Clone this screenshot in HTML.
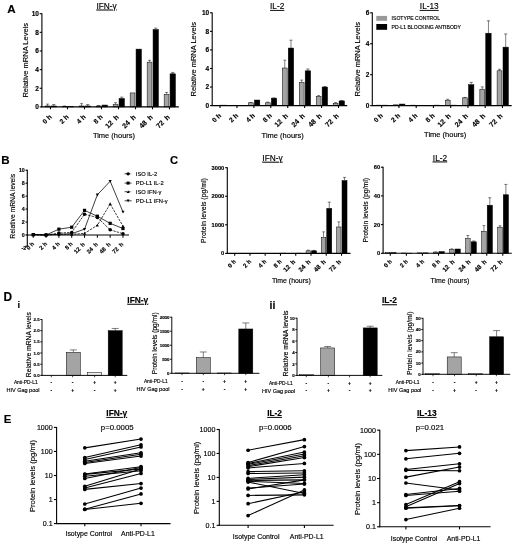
<!DOCTYPE html>
<html><head><meta charset="utf-8"><title>Figure</title>
<style>html,body{margin:0;padding:0;background:#fff;}body{width:520px;height:547px;overflow:hidden;}svg{display:block;filter:blur(0.28px);}text{stroke:#000;stroke-width:0.15px;}svg{font-family:'Liberation Sans', sans-serif;}</style>
</head><body>
<svg width="520" height="547" viewBox="0 0 520 547">
<rect width="520" height="547" fill="#fff"/>
<text x="7.20" y="13.00" font-size="11.6" text-anchor="start" font-weight="bold">A</text>
<text x="1.20" y="164.20" font-size="11.6" text-anchor="start" font-weight="bold">B</text>
<text x="170.00" y="163.90" font-size="11.2" text-anchor="start" font-weight="bold">C</text>
<text x="3.50" y="301.20" font-size="11.9" text-anchor="start" font-weight="bold">D</text>
<text x="3.70" y="423.00" font-size="11.4" text-anchor="start" font-weight="bold">E</text>
<line x1="47.55" y1="105.97" x2="47.55" y2="104.10" stroke="#000" stroke-width="0.5"/>
<line x1="46.11" y1="104.10" x2="48.99" y2="104.10" stroke="#000" stroke-width="0.5"/>
<rect x="45.15" y="105.97" width="4.80" height="0.93" fill="#a4a4a4" stroke="#000" stroke-width="0.5"/>
<line x1="53.75" y1="105.97" x2="53.75" y2="104.57" stroke="#000" stroke-width="0.5"/>
<line x1="52.13" y1="104.57" x2="55.37" y2="104.57" stroke="#000" stroke-width="0.5"/>
<rect x="51.05" y="105.97" width="5.40" height="0.93" fill="#000" stroke="#000" stroke-width="0.5"/>
<line x1="64.55" y1="106.43" x2="64.55" y2="105.97" stroke="#000" stroke-width="0.5"/>
<line x1="63.11" y1="105.97" x2="65.99" y2="105.97" stroke="#000" stroke-width="0.5"/>
<rect x="62.15" y="106.43" width="4.80" height="0.47" fill="#a4a4a4" stroke="#000" stroke-width="0.5"/>
<rect x="68.05" y="106.71" width="5.40" height="0.19" fill="#000" stroke="#000" stroke-width="0.5"/>
<line x1="81.55" y1="105.97" x2="81.55" y2="103.64" stroke="#000" stroke-width="0.5"/>
<line x1="80.11" y1="103.64" x2="82.99" y2="103.64" stroke="#000" stroke-width="0.5"/>
<rect x="79.15" y="105.97" width="4.80" height="0.93" fill="#a4a4a4" stroke="#000" stroke-width="0.5"/>
<line x1="87.75" y1="105.97" x2="87.75" y2="104.57" stroke="#000" stroke-width="0.5"/>
<line x1="86.13" y1="104.57" x2="89.37" y2="104.57" stroke="#000" stroke-width="0.5"/>
<rect x="85.05" y="105.97" width="5.40" height="0.93" fill="#000" stroke="#000" stroke-width="0.5"/>
<line x1="98.55" y1="105.97" x2="98.55" y2="105.50" stroke="#000" stroke-width="0.5"/>
<line x1="97.11" y1="105.50" x2="99.99" y2="105.50" stroke="#000" stroke-width="0.5"/>
<rect x="96.15" y="105.97" width="4.80" height="0.93" fill="#a4a4a4" stroke="#000" stroke-width="0.5"/>
<rect x="102.05" y="105.04" width="5.40" height="1.86" fill="#000" stroke="#000" stroke-width="0.5"/>
<line x1="115.55" y1="104.57" x2="115.55" y2="102.71" stroke="#000" stroke-width="0.5"/>
<line x1="114.11" y1="102.71" x2="116.99" y2="102.71" stroke="#000" stroke-width="0.5"/>
<rect x="113.15" y="104.57" width="4.80" height="2.33" fill="#a4a4a4" stroke="#000" stroke-width="0.5"/>
<line x1="121.75" y1="98.51" x2="121.75" y2="97.11" stroke="#000" stroke-width="0.5"/>
<line x1="120.13" y1="97.11" x2="123.37" y2="97.11" stroke="#000" stroke-width="0.5"/>
<rect x="119.05" y="98.51" width="5.40" height="8.39" fill="#000" stroke="#000" stroke-width="0.5"/>
<rect x="130.15" y="92.92" width="4.80" height="13.98" fill="#a4a4a4" stroke="#000" stroke-width="0.5"/>
<rect x="136.05" y="49.12" width="5.40" height="57.78" fill="#000" stroke="#000" stroke-width="0.5"/>
<line x1="149.55" y1="62.16" x2="149.55" y2="60.30" stroke="#000" stroke-width="0.5"/>
<line x1="148.11" y1="60.30" x2="150.99" y2="60.30" stroke="#000" stroke-width="0.5"/>
<rect x="147.15" y="62.16" width="4.80" height="44.74" fill="#a4a4a4" stroke="#000" stroke-width="0.5"/>
<line x1="155.75" y1="29.54" x2="155.75" y2="28.15" stroke="#000" stroke-width="0.5"/>
<line x1="154.13" y1="28.15" x2="157.37" y2="28.15" stroke="#000" stroke-width="0.5"/>
<rect x="153.05" y="29.54" width="5.40" height="77.36" fill="#000" stroke="#000" stroke-width="0.5"/>
<line x1="166.55" y1="94.32" x2="166.55" y2="92.45" stroke="#000" stroke-width="0.5"/>
<line x1="165.11" y1="92.45" x2="167.99" y2="92.45" stroke="#000" stroke-width="0.5"/>
<rect x="164.15" y="94.32" width="4.80" height="12.58" fill="#a4a4a4" stroke="#000" stroke-width="0.5"/>
<line x1="172.75" y1="73.81" x2="172.75" y2="72.42" stroke="#000" stroke-width="0.5"/>
<line x1="171.13" y1="72.42" x2="174.37" y2="72.42" stroke="#000" stroke-width="0.5"/>
<rect x="170.05" y="73.81" width="5.40" height="33.09" fill="#000" stroke="#000" stroke-width="0.5"/>
<line x1="41.90" y1="13.30" x2="41.90" y2="107.30" stroke="#000" stroke-width="1.1"/>
<line x1="39.70" y1="106.90" x2="41.90" y2="106.90" stroke="#000" stroke-width="1.1"/>
<text x="38.90" y="109.24" font-size="6.5" text-anchor="end" font-weight="bold">0</text>
<line x1="39.70" y1="88.26" x2="41.90" y2="88.26" stroke="#000" stroke-width="1.1"/>
<text x="38.90" y="90.60" font-size="6.5" text-anchor="end" font-weight="bold">2</text>
<line x1="39.70" y1="69.62" x2="41.90" y2="69.62" stroke="#000" stroke-width="1.1"/>
<text x="38.90" y="71.96" font-size="6.5" text-anchor="end" font-weight="bold">4</text>
<line x1="39.70" y1="50.98" x2="41.90" y2="50.98" stroke="#000" stroke-width="1.1"/>
<text x="38.90" y="53.32" font-size="6.5" text-anchor="end" font-weight="bold">6</text>
<line x1="39.70" y1="32.34" x2="41.90" y2="32.34" stroke="#000" stroke-width="1.1"/>
<text x="38.90" y="34.68" font-size="6.5" text-anchor="end" font-weight="bold">8</text>
<line x1="39.70" y1="13.70" x2="41.90" y2="13.70" stroke="#000" stroke-width="1.1"/>
<text x="38.90" y="16.04" font-size="6.5" text-anchor="end" font-weight="bold">10</text>
<line x1="41.35" y1="106.90" x2="178.80" y2="106.90" stroke="#000" stroke-width="1.1"/>
<line x1="50.50" y1="106.90" x2="50.50" y2="109.30" stroke="#000" stroke-width="1.1"/>
<text x="52.10" y="117.35" font-size="6.6499999999999995" text-anchor="end" font-weight="bold" transform="rotate(-45 52.1 117.35000000000001)">0 h</text>
<line x1="67.50" y1="106.90" x2="67.50" y2="109.30" stroke="#000" stroke-width="1.1"/>
<text x="69.10" y="117.35" font-size="6.6499999999999995" text-anchor="end" font-weight="bold" transform="rotate(-45 69.10000000000001 117.35000000000001)">2 h</text>
<line x1="84.50" y1="106.90" x2="84.50" y2="109.30" stroke="#000" stroke-width="1.1"/>
<text x="86.10" y="117.35" font-size="6.6499999999999995" text-anchor="end" font-weight="bold" transform="rotate(-45 86.10000000000001 117.35000000000001)">4 h</text>
<line x1="101.50" y1="106.90" x2="101.50" y2="109.30" stroke="#000" stroke-width="1.1"/>
<text x="103.10" y="117.35" font-size="6.6499999999999995" text-anchor="end" font-weight="bold" transform="rotate(-45 103.10000000000001 117.35000000000001)">8 h</text>
<line x1="118.50" y1="106.90" x2="118.50" y2="109.30" stroke="#000" stroke-width="1.1"/>
<text x="119.20" y="117.65" font-size="7.0" text-anchor="end" font-weight="bold" transform="rotate(-45 119.2 117.65)" word-spacing="1.8">12 h</text>
<line x1="135.50" y1="106.90" x2="135.50" y2="109.30" stroke="#000" stroke-width="1.1"/>
<text x="136.20" y="117.65" font-size="7.0" text-anchor="end" font-weight="bold" transform="rotate(-45 136.2 117.65)" word-spacing="1.8">24 h</text>
<line x1="152.50" y1="106.90" x2="152.50" y2="109.30" stroke="#000" stroke-width="1.1"/>
<text x="153.20" y="117.65" font-size="7.0" text-anchor="end" font-weight="bold" transform="rotate(-45 153.2 117.65)" word-spacing="1.8">48 h</text>
<line x1="169.50" y1="106.90" x2="169.50" y2="109.30" stroke="#000" stroke-width="1.1"/>
<text x="170.20" y="117.65" font-size="7.0" text-anchor="end" font-weight="bold" transform="rotate(-45 170.2 117.65)" word-spacing="1.8">72 h</text>
<text x="106.60" y="8.60" font-size="8.3" text-anchor="middle" text-decoration="underline">IFN-γ</text>
<text x="27.90" y="60.30" font-size="7.5" text-anchor="middle" transform="rotate(-90 27.9 60.300000000000004)">Relative mRNA Levels</text>
<text x="114.00" y="138.40" font-size="7.5" text-anchor="middle">Time (hours)</text>
<rect x="214.65" y="105.41" width="4.80" height="0.19" fill="#a4a4a4" stroke="#000" stroke-width="0.5"/>
<rect x="220.55" y="105.14" width="5.40" height="0.46" fill="#000" stroke="#000" stroke-width="0.5"/>
<line x1="250.91" y1="102.82" x2="250.91" y2="102.54" stroke="#000" stroke-width="0.5"/>
<line x1="249.47" y1="102.54" x2="252.35" y2="102.54" stroke="#000" stroke-width="0.5"/>
<rect x="248.51" y="102.82" width="4.80" height="2.78" fill="#a4a4a4" stroke="#000" stroke-width="0.5"/>
<rect x="254.41" y="100.03" width="5.40" height="5.57" fill="#000" stroke="#000" stroke-width="0.5"/>
<line x1="267.84" y1="102.82" x2="267.84" y2="102.07" stroke="#000" stroke-width="0.5"/>
<line x1="266.40" y1="102.07" x2="269.28" y2="102.07" stroke="#000" stroke-width="0.5"/>
<rect x="265.44" y="102.82" width="4.80" height="2.78" fill="#a4a4a4" stroke="#000" stroke-width="0.5"/>
<line x1="274.04" y1="98.18" x2="274.04" y2="97.90" stroke="#000" stroke-width="0.5"/>
<line x1="272.42" y1="97.90" x2="275.66" y2="97.90" stroke="#000" stroke-width="0.5"/>
<rect x="271.34" y="98.18" width="5.40" height="7.42" fill="#000" stroke="#000" stroke-width="0.5"/>
<line x1="284.77" y1="68.02" x2="284.77" y2="60.13" stroke="#000" stroke-width="0.5"/>
<line x1="283.33" y1="60.13" x2="286.21" y2="60.13" stroke="#000" stroke-width="0.5"/>
<rect x="282.37" y="68.02" width="4.80" height="37.58" fill="#a4a4a4" stroke="#000" stroke-width="0.5"/>
<line x1="290.97" y1="48.06" x2="290.97" y2="40.18" stroke="#000" stroke-width="0.5"/>
<line x1="289.35" y1="40.18" x2="292.59" y2="40.18" stroke="#000" stroke-width="0.5"/>
<rect x="288.27" y="48.06" width="5.40" height="57.54" fill="#000" stroke="#000" stroke-width="0.5"/>
<line x1="301.70" y1="82.40" x2="301.70" y2="80.08" stroke="#000" stroke-width="0.5"/>
<line x1="300.26" y1="80.08" x2="303.14" y2="80.08" stroke="#000" stroke-width="0.5"/>
<rect x="299.30" y="82.40" width="4.80" height="23.20" fill="#a4a4a4" stroke="#000" stroke-width="0.5"/>
<line x1="307.90" y1="70.80" x2="307.90" y2="68.94" stroke="#000" stroke-width="0.5"/>
<line x1="306.28" y1="68.94" x2="309.52" y2="68.94" stroke="#000" stroke-width="0.5"/>
<rect x="305.20" y="70.80" width="5.40" height="34.80" fill="#000" stroke="#000" stroke-width="0.5"/>
<line x1="318.63" y1="96.32" x2="318.63" y2="95.58" stroke="#000" stroke-width="0.5"/>
<line x1="317.19" y1="95.58" x2="320.07" y2="95.58" stroke="#000" stroke-width="0.5"/>
<rect x="316.23" y="96.32" width="4.80" height="9.28" fill="#a4a4a4" stroke="#000" stroke-width="0.5"/>
<line x1="324.83" y1="87.04" x2="324.83" y2="86.58" stroke="#000" stroke-width="0.5"/>
<line x1="323.21" y1="86.58" x2="326.45" y2="86.58" stroke="#000" stroke-width="0.5"/>
<rect x="322.13" y="87.04" width="5.40" height="18.56" fill="#000" stroke="#000" stroke-width="0.5"/>
<line x1="335.56" y1="103.28" x2="335.56" y2="102.54" stroke="#000" stroke-width="0.5"/>
<line x1="334.12" y1="102.54" x2="337.00" y2="102.54" stroke="#000" stroke-width="0.5"/>
<rect x="333.16" y="103.28" width="4.80" height="2.32" fill="#a4a4a4" stroke="#000" stroke-width="0.5"/>
<line x1="341.76" y1="100.96" x2="341.76" y2="100.50" stroke="#000" stroke-width="0.5"/>
<line x1="340.14" y1="100.50" x2="343.38" y2="100.50" stroke="#000" stroke-width="0.5"/>
<rect x="339.06" y="100.96" width="5.40" height="4.64" fill="#000" stroke="#000" stroke-width="0.5"/>
<line x1="212.20" y1="12.40" x2="212.20" y2="106.00" stroke="#000" stroke-width="1.1"/>
<line x1="210.00" y1="105.60" x2="212.20" y2="105.60" stroke="#000" stroke-width="1.1"/>
<text x="209.20" y="107.94" font-size="6.5" text-anchor="end" font-weight="bold">0</text>
<line x1="210.00" y1="87.04" x2="212.20" y2="87.04" stroke="#000" stroke-width="1.1"/>
<text x="209.20" y="89.38" font-size="6.5" text-anchor="end" font-weight="bold">2</text>
<line x1="210.00" y1="68.48" x2="212.20" y2="68.48" stroke="#000" stroke-width="1.1"/>
<text x="209.20" y="70.82" font-size="6.5" text-anchor="end" font-weight="bold">4</text>
<line x1="210.00" y1="49.92" x2="212.20" y2="49.92" stroke="#000" stroke-width="1.1"/>
<text x="209.20" y="52.26" font-size="6.5" text-anchor="end" font-weight="bold">6</text>
<line x1="210.00" y1="31.36" x2="212.20" y2="31.36" stroke="#000" stroke-width="1.1"/>
<text x="209.20" y="33.70" font-size="6.5" text-anchor="end" font-weight="bold">8</text>
<line x1="210.00" y1="12.80" x2="212.20" y2="12.80" stroke="#000" stroke-width="1.1"/>
<text x="209.20" y="15.14" font-size="6.5" text-anchor="end" font-weight="bold">10</text>
<line x1="211.65" y1="105.60" x2="347.20" y2="105.60" stroke="#000" stroke-width="1.1"/>
<line x1="220.00" y1="105.60" x2="220.00" y2="108.00" stroke="#000" stroke-width="1.1"/>
<text x="221.60" y="116.05" font-size="6.6499999999999995" text-anchor="end" font-weight="bold" transform="rotate(-45 221.6 116.05)">0 h</text>
<line x1="236.93" y1="105.60" x2="236.93" y2="108.00" stroke="#000" stroke-width="1.1"/>
<text x="238.53" y="116.05" font-size="6.6499999999999995" text-anchor="end" font-weight="bold" transform="rotate(-45 238.53 116.05)">2 h</text>
<line x1="253.86" y1="105.60" x2="253.86" y2="108.00" stroke="#000" stroke-width="1.1"/>
<text x="255.46" y="116.05" font-size="6.6499999999999995" text-anchor="end" font-weight="bold" transform="rotate(-45 255.46 116.05)">4 h</text>
<line x1="270.79" y1="105.60" x2="270.79" y2="108.00" stroke="#000" stroke-width="1.1"/>
<text x="272.39" y="116.05" font-size="6.6499999999999995" text-anchor="end" font-weight="bold" transform="rotate(-45 272.39 116.05)">8 h</text>
<line x1="287.72" y1="105.60" x2="287.72" y2="108.00" stroke="#000" stroke-width="1.1"/>
<text x="288.42" y="116.35" font-size="7.0" text-anchor="end" font-weight="bold" transform="rotate(-45 288.42 116.35)" word-spacing="1.8">12 h</text>
<line x1="304.65" y1="105.60" x2="304.65" y2="108.00" stroke="#000" stroke-width="1.1"/>
<text x="305.35" y="116.35" font-size="7.0" text-anchor="end" font-weight="bold" transform="rotate(-45 305.34999999999997 116.35)" word-spacing="1.8">24 h</text>
<line x1="321.58" y1="105.60" x2="321.58" y2="108.00" stroke="#000" stroke-width="1.1"/>
<text x="322.28" y="116.35" font-size="7.0" text-anchor="end" font-weight="bold" transform="rotate(-45 322.28 116.35)" word-spacing="1.8">48 h</text>
<line x1="338.51" y1="105.60" x2="338.51" y2="108.00" stroke="#000" stroke-width="1.1"/>
<text x="339.21" y="116.35" font-size="7.0" text-anchor="end" font-weight="bold" transform="rotate(-45 339.21 116.35)" word-spacing="1.8">72 h</text>
<text x="277.20" y="9.00" font-size="8.3" text-anchor="middle" text-decoration="underline">IL-2</text>
<text x="196.50" y="59.20" font-size="7.5" text-anchor="middle" transform="rotate(-90 196.5 59.199999999999996)">Relative mRNA Levels</text>
<text x="282.70" y="138.00" font-size="7.5" text-anchor="middle">Time (hours)</text>
<rect x="376.35" y="105.14" width="4.80" height="0.46" fill="#a4a4a4" stroke="#000" stroke-width="0.5"/>
<rect x="382.25" y="105.14" width="5.40" height="0.46" fill="#000" stroke="#000" stroke-width="0.5"/>
<rect x="393.60" y="104.83" width="4.80" height="0.77" fill="#a4a4a4" stroke="#000" stroke-width="0.5"/>
<rect x="399.50" y="104.05" width="5.40" height="1.55" fill="#000" stroke="#000" stroke-width="0.5"/>
<rect x="410.85" y="105.14" width="4.80" height="0.46" fill="#a4a4a4" stroke="#000" stroke-width="0.5"/>
<rect x="434.00" y="105.14" width="5.40" height="0.46" fill="#000" stroke="#000" stroke-width="0.5"/>
<line x1="447.75" y1="100.19" x2="447.75" y2="99.26" stroke="#000" stroke-width="0.5"/>
<line x1="446.31" y1="99.26" x2="449.19" y2="99.26" stroke="#000" stroke-width="0.5"/>
<rect x="445.35" y="100.19" width="4.80" height="5.41" fill="#a4a4a4" stroke="#000" stroke-width="0.5"/>
<rect x="451.25" y="105.14" width="5.40" height="0.46" fill="#000" stroke="#000" stroke-width="0.5"/>
<line x1="465.00" y1="97.87" x2="465.00" y2="97.40" stroke="#000" stroke-width="0.5"/>
<line x1="463.56" y1="97.40" x2="466.44" y2="97.40" stroke="#000" stroke-width="0.5"/>
<rect x="462.60" y="97.87" width="4.80" height="7.73" fill="#a4a4a4" stroke="#000" stroke-width="0.5"/>
<line x1="471.20" y1="84.72" x2="471.20" y2="82.40" stroke="#000" stroke-width="0.5"/>
<line x1="469.58" y1="82.40" x2="472.82" y2="82.40" stroke="#000" stroke-width="0.5"/>
<rect x="468.50" y="84.72" width="5.40" height="20.88" fill="#000" stroke="#000" stroke-width="0.5"/>
<line x1="482.25" y1="89.21" x2="482.25" y2="86.89" stroke="#000" stroke-width="0.5"/>
<line x1="480.81" y1="86.89" x2="483.69" y2="86.89" stroke="#000" stroke-width="0.5"/>
<rect x="479.85" y="89.21" width="4.80" height="16.39" fill="#a4a4a4" stroke="#000" stroke-width="0.5"/>
<line x1="488.45" y1="33.22" x2="488.45" y2="20.84" stroke="#000" stroke-width="0.5"/>
<line x1="486.83" y1="20.84" x2="490.07" y2="20.84" stroke="#000" stroke-width="0.5"/>
<rect x="485.75" y="33.22" width="5.40" height="72.38" fill="#000" stroke="#000" stroke-width="0.5"/>
<line x1="499.50" y1="70.80" x2="499.50" y2="69.25" stroke="#000" stroke-width="0.5"/>
<line x1="498.06" y1="69.25" x2="500.94" y2="69.25" stroke="#000" stroke-width="0.5"/>
<rect x="497.10" y="70.80" width="4.80" height="34.80" fill="#a4a4a4" stroke="#000" stroke-width="0.5"/>
<line x1="505.70" y1="47.14" x2="505.70" y2="33.99" stroke="#000" stroke-width="0.5"/>
<line x1="504.08" y1="33.99" x2="507.32" y2="33.99" stroke="#000" stroke-width="0.5"/>
<rect x="503.00" y="47.14" width="5.40" height="58.46" fill="#000" stroke="#000" stroke-width="0.5"/>
<line x1="372.30" y1="12.40" x2="372.30" y2="106.00" stroke="#000" stroke-width="1.1"/>
<line x1="370.10" y1="105.60" x2="372.30" y2="105.60" stroke="#000" stroke-width="1.1"/>
<text x="369.30" y="107.94" font-size="6.5" text-anchor="end" font-weight="bold">0</text>
<line x1="370.10" y1="74.67" x2="372.30" y2="74.67" stroke="#000" stroke-width="1.1"/>
<text x="369.30" y="77.01" font-size="6.5" text-anchor="end" font-weight="bold">2</text>
<line x1="370.10" y1="43.73" x2="372.30" y2="43.73" stroke="#000" stroke-width="1.1"/>
<text x="369.30" y="46.07" font-size="6.5" text-anchor="end" font-weight="bold">4</text>
<line x1="370.10" y1="12.80" x2="372.30" y2="12.80" stroke="#000" stroke-width="1.1"/>
<text x="369.30" y="15.14" font-size="6.5" text-anchor="end" font-weight="bold">6</text>
<line x1="371.75" y1="105.60" x2="511.70" y2="105.60" stroke="#000" stroke-width="1.1"/>
<line x1="381.70" y1="105.60" x2="381.70" y2="108.00" stroke="#000" stroke-width="1.1"/>
<text x="383.30" y="116.05" font-size="6.6499999999999995" text-anchor="end" font-weight="bold" transform="rotate(-45 383.29999999999995 116.05)">0 h</text>
<line x1="398.95" y1="105.60" x2="398.95" y2="108.00" stroke="#000" stroke-width="1.1"/>
<text x="400.55" y="116.05" font-size="6.6499999999999995" text-anchor="end" font-weight="bold" transform="rotate(-45 400.54999999999995 116.05)">2 h</text>
<line x1="416.20" y1="105.60" x2="416.20" y2="108.00" stroke="#000" stroke-width="1.1"/>
<text x="417.80" y="116.05" font-size="6.6499999999999995" text-anchor="end" font-weight="bold" transform="rotate(-45 417.79999999999995 116.05)">4 h</text>
<line x1="433.45" y1="105.60" x2="433.45" y2="108.00" stroke="#000" stroke-width="1.1"/>
<text x="435.05" y="116.05" font-size="6.6499999999999995" text-anchor="end" font-weight="bold" transform="rotate(-45 435.04999999999995 116.05)">8 h</text>
<line x1="450.70" y1="105.60" x2="450.70" y2="108.00" stroke="#000" stroke-width="1.1"/>
<text x="451.40" y="116.35" font-size="7.0" text-anchor="end" font-weight="bold" transform="rotate(-45 451.4 116.35)" word-spacing="1.8">12 h</text>
<line x1="467.95" y1="105.60" x2="467.95" y2="108.00" stroke="#000" stroke-width="1.1"/>
<text x="468.65" y="116.35" font-size="7.0" text-anchor="end" font-weight="bold" transform="rotate(-45 468.65 116.35)" word-spacing="1.8">24 h</text>
<line x1="485.20" y1="105.60" x2="485.20" y2="108.00" stroke="#000" stroke-width="1.1"/>
<text x="485.90" y="116.35" font-size="7.0" text-anchor="end" font-weight="bold" transform="rotate(-45 485.9 116.35)" word-spacing="1.8">48 h</text>
<line x1="502.45" y1="105.60" x2="502.45" y2="108.00" stroke="#000" stroke-width="1.1"/>
<text x="503.15" y="116.35" font-size="7.0" text-anchor="end" font-weight="bold" transform="rotate(-45 503.15 116.35)" word-spacing="1.8">72 h</text>
<text x="429.30" y="9.00" font-size="8.3" text-anchor="middle" text-decoration="underline">IL-13</text>
<text x="360.00" y="59.20" font-size="7.5" text-anchor="middle" transform="rotate(-90 360.0 59.199999999999996)">Relative mRNA Levels</text>
<text x="445.20" y="137.00" font-size="7.5" text-anchor="middle">Time (hours)</text>
<rect x="376.3" y="15.9" width="10.8" height="4.9" fill="#999"/>
<rect x="376.3" y="24.0" width="10.8" height="5.8" fill="#000"/>
<text x="391.60" y="20.30" font-size="5.1" text-anchor="start">ISOTYPE CONTROL</text>
<text x="391.60" y="28.90" font-size="5.1" text-anchor="start">PD-L1 BLOCKING ANTIBODY</text>
<line x1="27.30" y1="169.80" x2="27.30" y2="235.40" stroke="#000" stroke-width="1.1"/>
<line x1="25.50" y1="235.00" x2="27.30" y2="235.00" stroke="#000" stroke-width="1.1"/>
<text x="24.80" y="236.91" font-size="5.3" text-anchor="end" font-weight="bold">0</text>
<line x1="25.50" y1="222.04" x2="27.30" y2="222.04" stroke="#000" stroke-width="1.1"/>
<text x="24.80" y="223.95" font-size="5.3" text-anchor="end" font-weight="bold">2</text>
<line x1="25.50" y1="209.08" x2="27.30" y2="209.08" stroke="#000" stroke-width="1.1"/>
<text x="24.80" y="210.99" font-size="5.3" text-anchor="end" font-weight="bold">4</text>
<line x1="25.50" y1="196.12" x2="27.30" y2="196.12" stroke="#000" stroke-width="1.1"/>
<text x="24.80" y="198.03" font-size="5.3" text-anchor="end" font-weight="bold">6</text>
<line x1="25.50" y1="183.16" x2="27.30" y2="183.16" stroke="#000" stroke-width="1.1"/>
<text x="24.80" y="185.07" font-size="5.3" text-anchor="end" font-weight="bold">8</text>
<line x1="25.50" y1="170.20" x2="27.30" y2="170.20" stroke="#000" stroke-width="1.1"/>
<text x="24.80" y="172.11" font-size="5.3" text-anchor="end" font-weight="bold">10</text>
<line x1="27.30" y1="235.00" x2="27.30" y2="246.20" stroke="#000" stroke-width="1.1"/>
<line x1="25.50" y1="246.20" x2="27.30" y2="246.20" stroke="#000" stroke-width="1.1"/>
<text x="26.30" y="249.60" font-size="5.3" text-anchor="end" font-weight="bold">-2</text>
<line x1="26.75" y1="235.00" x2="129.00" y2="235.00" stroke="#000" stroke-width="1.1"/>
<text x="14.70" y="206.20" font-size="6.75" text-anchor="middle" transform="rotate(-90 14.7 206.2)">Relative mRNA levels</text>
<line x1="33.25" y1="235.00" x2="33.25" y2="237.80" stroke="#000" stroke-width="1.0"/>
<text x="34.65" y="244.20" font-size="5.8" text-anchor="end" font-weight="bold" transform="rotate(-45 34.65 244.2)">0 h</text>
<line x1="46.07" y1="235.00" x2="46.07" y2="237.80" stroke="#000" stroke-width="1.0"/>
<text x="47.47" y="244.20" font-size="5.8" text-anchor="end" font-weight="bold" transform="rotate(-45 47.47 244.2)">2 h</text>
<line x1="58.89" y1="235.00" x2="58.89" y2="237.80" stroke="#000" stroke-width="1.0"/>
<text x="60.29" y="244.20" font-size="5.8" text-anchor="end" font-weight="bold" transform="rotate(-45 60.29 244.2)">4 h</text>
<line x1="71.71" y1="235.00" x2="71.71" y2="237.80" stroke="#000" stroke-width="1.0"/>
<text x="73.11" y="244.20" font-size="5.8" text-anchor="end" font-weight="bold" transform="rotate(-45 73.11000000000001 244.2)">8 h</text>
<line x1="84.53" y1="235.00" x2="84.53" y2="237.80" stroke="#000" stroke-width="1.0"/>
<text x="85.33" y="244.80" font-size="5.8" text-anchor="end" font-weight="bold" transform="rotate(-45 85.33 244.8)" word-spacing="1.4">12 h</text>
<line x1="97.35" y1="235.00" x2="97.35" y2="237.80" stroke="#000" stroke-width="1.0"/>
<text x="98.15" y="244.80" font-size="5.8" text-anchor="end" font-weight="bold" transform="rotate(-45 98.14999999999999 244.8)" word-spacing="1.4">24 h</text>
<line x1="110.17" y1="235.00" x2="110.17" y2="237.80" stroke="#000" stroke-width="1.0"/>
<text x="110.97" y="244.80" font-size="5.8" text-anchor="end" font-weight="bold" transform="rotate(-45 110.97 244.8)" word-spacing="1.4">48 h</text>
<line x1="122.99" y1="235.00" x2="122.99" y2="237.80" stroke="#000" stroke-width="1.0"/>
<text x="123.79" y="244.80" font-size="5.8" text-anchor="end" font-weight="bold" transform="rotate(-45 123.79 244.8)" word-spacing="1.4">72 h</text>
<polyline points="33.25,234.87 46.07,235.00 58.89,233.06 71.71,232.41 84.53,214.26 97.35,217.50 110.17,229.82 122.99,233.70" fill="none" stroke="#000" stroke-width="0.75" stroke-dasharray="2.4 1.0"/>
<circle cx="33.25" cy="234.87" r="1.76" fill="#000"/>
<circle cx="46.07" cy="235.00" r="1.76" fill="#000"/>
<circle cx="58.89" cy="233.06" r="1.76" fill="#000"/>
<circle cx="71.71" cy="232.41" r="1.76" fill="#000"/>
<circle cx="84.53" cy="214.26" r="1.76" fill="#000"/>
<circle cx="97.35" cy="217.50" r="1.76" fill="#000"/>
<circle cx="110.17" cy="229.82" r="1.76" fill="#000"/>
<circle cx="122.99" cy="233.70" r="1.76" fill="#000"/>
<polyline points="33.25,234.68 46.07,235.00 58.89,229.17 71.71,227.22 84.53,210.38 97.35,216.21 110.17,223.34 122.99,228.52" fill="none" stroke="#000" stroke-width="0.75"/>
<rect x="31.65" y="233.08" width="3.20" height="3.20" fill="#000"/>
<rect x="44.47" y="233.40" width="3.20" height="3.20" fill="#000"/>
<rect x="57.29" y="227.57" width="3.20" height="3.20" fill="#000"/>
<rect x="70.11" y="225.62" width="3.20" height="3.20" fill="#000"/>
<rect x="82.93" y="208.78" width="3.20" height="3.20" fill="#000"/>
<rect x="95.75" y="214.61" width="3.20" height="3.20" fill="#000"/>
<rect x="108.57" y="221.74" width="3.20" height="3.20" fill="#000"/>
<rect x="121.39" y="226.92" width="3.20" height="3.20" fill="#000"/>
<polyline points="33.25,234.35 46.07,234.68 58.89,234.35 71.71,234.35 84.53,233.38 97.35,225.28 110.17,203.90 122.99,226.25" fill="none" stroke="#000" stroke-width="0.75" stroke-dasharray="2.4 1.0"/>
<polygon points="31.65,235.63 34.85,235.63 33.25,232.75" fill="#000"/>
<polygon points="44.47,235.96 47.67,235.96 46.07,233.08" fill="#000"/>
<polygon points="57.29,235.63 60.49,235.63 58.89,232.75" fill="#000"/>
<polygon points="70.11,235.63 73.31,235.63 71.71,232.75" fill="#000"/>
<polygon points="82.93,234.66 86.13,234.66 84.53,231.78" fill="#000"/>
<polygon points="95.75,226.56 98.95,226.56 97.35,223.68" fill="#000"/>
<polygon points="108.57,205.18 111.77,205.18 110.17,202.30" fill="#000"/>
<polygon points="121.39,227.53 124.59,227.53 122.99,224.65" fill="#000"/>
<polyline points="33.25,234.35 46.07,235.00 58.89,234.35 71.71,233.70 84.53,229.17 97.35,194.82 110.17,181.22 122.99,212.00" fill="none" stroke="#000" stroke-width="0.75"/>
<polygon points="31.65,233.07 34.85,233.07 33.25,235.95" fill="#000"/>
<polygon points="44.47,233.72 47.67,233.72 46.07,236.60" fill="#000"/>
<polygon points="57.29,233.07 60.49,233.07 58.89,235.95" fill="#000"/>
<polygon points="70.11,232.42 73.31,232.42 71.71,235.30" fill="#000"/>
<polygon points="82.93,227.89 86.13,227.89 84.53,230.77" fill="#000"/>
<polygon points="95.75,193.54 98.95,193.54 97.35,196.42" fill="#000"/>
<polygon points="108.57,179.94 111.77,179.94 110.17,182.82" fill="#000"/>
<polygon points="121.39,210.72 124.59,210.72 122.99,213.60" fill="#000"/>
<line x1="124.6" y1="173.8" x2="131.6" y2="173.8" stroke="#000" stroke-width="0.75" stroke-dasharray="2.4 1.0"/>
<circle cx="128.10" cy="173.80" r="1.65" fill="#000"/>
<text x="135.80" y="175.80" font-size="5.75" text-anchor="start">ISO IL-2</text>
<line x1="124.6" y1="183.1" x2="131.6" y2="183.1" stroke="#000" stroke-width="0.75"/>
<rect x="126.60" y="181.60" width="3.00" height="3.00" fill="#000"/>
<text x="135.80" y="185.10" font-size="5.75" text-anchor="start">PD-L1 IL-2</text>
<line x1="124.6" y1="191.7" x2="131.6" y2="191.7" stroke="#000" stroke-width="0.75" stroke-dasharray="2.4 1.0"/>
<polygon points="126.60,192.90 129.60,192.90 128.10,190.20" fill="#000"/>
<text x="135.80" y="193.70" font-size="5.75" text-anchor="start">ISO IFN-γ</text>
<line x1="124.6" y1="200.8" x2="131.6" y2="200.8" stroke="#000" stroke-width="0.75"/>
<polygon points="126.60,199.60 129.60,199.60 128.10,202.30" fill="#000"/>
<text x="135.80" y="202.80" font-size="5.75" text-anchor="start">PD-L1 IFN-γ</text>
<rect x="275.58" y="253.29" width="4.40" height="0.11" fill="#a4a4a4" stroke="#000" stroke-width="0.5"/>
<rect x="280.98" y="253.17" width="5.00" height="0.23" fill="#000" stroke="#000" stroke-width="0.5"/>
<rect x="290.84" y="253.29" width="4.40" height="0.11" fill="#a4a4a4" stroke="#000" stroke-width="0.5"/>
<rect x="296.24" y="253.17" width="5.00" height="0.23" fill="#000" stroke="#000" stroke-width="0.5"/>
<line x1="308.30" y1="250.83" x2="308.30" y2="250.11" stroke="#000" stroke-width="0.5"/>
<line x1="306.98" y1="250.11" x2="309.62" y2="250.11" stroke="#000" stroke-width="0.5"/>
<rect x="306.10" y="250.83" width="4.40" height="2.57" fill="#a4a4a4" stroke="#000" stroke-width="0.5"/>
<line x1="314.00" y1="250.83" x2="314.00" y2="250.40" stroke="#000" stroke-width="0.5"/>
<line x1="312.50" y1="250.40" x2="315.50" y2="250.40" stroke="#000" stroke-width="0.5"/>
<rect x="311.50" y="250.83" width="5.00" height="2.57" fill="#000" stroke="#000" stroke-width="0.5"/>
<line x1="323.56" y1="237.55" x2="323.56" y2="231.83" stroke="#000" stroke-width="0.5"/>
<line x1="322.24" y1="231.83" x2="324.88" y2="231.83" stroke="#000" stroke-width="0.5"/>
<rect x="321.36" y="237.55" width="4.40" height="15.85" fill="#a4a4a4" stroke="#000" stroke-width="0.5"/>
<line x1="329.26" y1="208.41" x2="329.26" y2="202.12" stroke="#000" stroke-width="0.5"/>
<line x1="327.76" y1="202.12" x2="330.76" y2="202.12" stroke="#000" stroke-width="0.5"/>
<rect x="326.76" y="208.41" width="5.00" height="44.99" fill="#000" stroke="#000" stroke-width="0.5"/>
<line x1="338.82" y1="226.98" x2="338.82" y2="221.83" stroke="#000" stroke-width="0.5"/>
<line x1="337.50" y1="221.83" x2="340.14" y2="221.83" stroke="#000" stroke-width="0.5"/>
<rect x="336.62" y="226.98" width="4.40" height="26.42" fill="#a4a4a4" stroke="#000" stroke-width="0.5"/>
<line x1="344.52" y1="180.56" x2="344.52" y2="177.41" stroke="#000" stroke-width="0.5"/>
<line x1="343.02" y1="177.41" x2="346.02" y2="177.41" stroke="#000" stroke-width="0.5"/>
<rect x="342.02" y="180.56" width="5.00" height="72.84" fill="#000" stroke="#000" stroke-width="0.5"/>
<line x1="227.30" y1="167.30" x2="227.30" y2="253.80" stroke="#000" stroke-width="1.1"/>
<line x1="225.10" y1="253.40" x2="227.30" y2="253.40" stroke="#000" stroke-width="1.1"/>
<text x="224.30" y="255.47" font-size="5.75" text-anchor="end" font-weight="bold">0</text>
<line x1="225.10" y1="224.83" x2="227.30" y2="224.83" stroke="#000" stroke-width="1.1"/>
<text x="224.30" y="226.90" font-size="5.75" text-anchor="end" font-weight="bold">1000</text>
<line x1="225.10" y1="196.27" x2="227.30" y2="196.27" stroke="#000" stroke-width="1.1"/>
<text x="224.30" y="198.34" font-size="5.75" text-anchor="end" font-weight="bold">2000</text>
<line x1="225.10" y1="167.70" x2="227.30" y2="167.70" stroke="#000" stroke-width="1.1"/>
<text x="224.30" y="169.77" font-size="5.75" text-anchor="end" font-weight="bold">3000</text>
<line x1="226.75" y1="253.40" x2="350.50" y2="253.40" stroke="#000" stroke-width="1.1"/>
<line x1="234.70" y1="253.40" x2="234.70" y2="255.80" stroke="#000" stroke-width="1.1"/>
<text x="236.40" y="262.00" font-size="6.048" text-anchor="end" font-weight="bold" transform="rotate(-45 236.4 262.0)">0 h</text>
<line x1="249.96" y1="253.40" x2="249.96" y2="255.80" stroke="#000" stroke-width="1.1"/>
<text x="251.66" y="262.00" font-size="6.048" text-anchor="end" font-weight="bold" transform="rotate(-45 251.66 262.0)">2 h</text>
<line x1="265.22" y1="253.40" x2="265.22" y2="255.80" stroke="#000" stroke-width="1.1"/>
<text x="266.92" y="262.00" font-size="6.048" text-anchor="end" font-weight="bold" transform="rotate(-45 266.91999999999996 262.0)">4 h</text>
<line x1="280.48" y1="253.40" x2="280.48" y2="255.80" stroke="#000" stroke-width="1.1"/>
<text x="282.18" y="262.00" font-size="6.048" text-anchor="end" font-weight="bold" transform="rotate(-45 282.18 262.0)">8 h</text>
<line x1="295.74" y1="253.40" x2="295.74" y2="255.80" stroke="#000" stroke-width="1.1"/>
<text x="295.64" y="262.30" font-size="6.3" text-anchor="end" font-weight="bold" transform="rotate(-45 295.64 262.3)" word-spacing="1.5">12 h</text>
<line x1="311.00" y1="253.40" x2="311.00" y2="255.80" stroke="#000" stroke-width="1.1"/>
<text x="310.90" y="262.30" font-size="6.3" text-anchor="end" font-weight="bold" transform="rotate(-45 310.9 262.3)" word-spacing="1.5">24 h</text>
<line x1="326.26" y1="253.40" x2="326.26" y2="255.80" stroke="#000" stroke-width="1.1"/>
<text x="326.16" y="262.30" font-size="6.3" text-anchor="end" font-weight="bold" transform="rotate(-45 326.15999999999997 262.3)" word-spacing="1.5">48 h</text>
<line x1="341.52" y1="253.40" x2="341.52" y2="255.80" stroke="#000" stroke-width="1.1"/>
<text x="341.42" y="262.30" font-size="6.3" text-anchor="end" font-weight="bold" transform="rotate(-45 341.41999999999996 262.3)" word-spacing="1.5">72 h</text>
<text x="272.50" y="160.80" font-size="8.3" text-anchor="middle" text-decoration="underline">IFN-γ</text>
<text x="205.80" y="210.55" font-size="6.9" text-anchor="middle" transform="rotate(-90 205.8 210.55)">Protein levels (pg/ml)</text>
<text x="291.30" y="282.50" font-size="6.9" text-anchor="middle">Time (hours)</text>
<rect x="385.20" y="252.73" width="4.60" height="0.57" fill="#a4a4a4" stroke="#000" stroke-width="0.5"/>
<rect x="390.80" y="252.58" width="5.20" height="0.72" fill="#000" stroke="#000" stroke-width="0.5"/>
<rect x="401.27" y="253.01" width="4.60" height="0.29" fill="#a4a4a4" stroke="#000" stroke-width="0.5"/>
<rect x="406.87" y="253.16" width="5.20" height="0.14" fill="#000" stroke="#000" stroke-width="0.5"/>
<rect x="417.34" y="252.87" width="4.60" height="0.43" fill="#a4a4a4" stroke="#000" stroke-width="0.5"/>
<rect x="422.94" y="252.87" width="5.20" height="0.43" fill="#000" stroke="#000" stroke-width="0.5"/>
<line x1="435.71" y1="252.15" x2="435.71" y2="251.87" stroke="#000" stroke-width="0.5"/>
<line x1="434.33" y1="251.87" x2="437.09" y2="251.87" stroke="#000" stroke-width="0.5"/>
<rect x="433.41" y="252.15" width="4.60" height="1.15" fill="#a4a4a4" stroke="#000" stroke-width="0.5"/>
<rect x="439.01" y="251.58" width="5.20" height="1.72" fill="#000" stroke="#000" stroke-width="0.5"/>
<line x1="451.78" y1="249.71" x2="451.78" y2="248.85" stroke="#000" stroke-width="0.5"/>
<line x1="450.40" y1="248.85" x2="453.16" y2="248.85" stroke="#000" stroke-width="0.5"/>
<rect x="449.48" y="249.71" width="4.60" height="3.59" fill="#a4a4a4" stroke="#000" stroke-width="0.5"/>
<rect x="455.08" y="249.00" width="5.20" height="4.31" fill="#000" stroke="#000" stroke-width="0.5"/>
<line x1="467.85" y1="238.66" x2="467.85" y2="235.51" stroke="#000" stroke-width="0.5"/>
<line x1="466.47" y1="235.51" x2="469.23" y2="235.51" stroke="#000" stroke-width="0.5"/>
<rect x="465.55" y="238.66" width="4.60" height="14.64" fill="#a4a4a4" stroke="#000" stroke-width="0.5"/>
<line x1="473.75" y1="241.82" x2="473.75" y2="240.96" stroke="#000" stroke-width="0.5"/>
<line x1="472.19" y1="240.96" x2="475.31" y2="240.96" stroke="#000" stroke-width="0.5"/>
<rect x="471.15" y="241.82" width="5.20" height="11.48" fill="#000" stroke="#000" stroke-width="0.5"/>
<line x1="483.92" y1="231.34" x2="483.92" y2="225.60" stroke="#000" stroke-width="0.5"/>
<line x1="482.54" y1="225.60" x2="485.30" y2="225.60" stroke="#000" stroke-width="0.5"/>
<rect x="481.62" y="231.34" width="4.60" height="21.96" fill="#a4a4a4" stroke="#000" stroke-width="0.5"/>
<line x1="489.82" y1="205.23" x2="489.82" y2="197.77" stroke="#000" stroke-width="0.5"/>
<line x1="488.26" y1="197.77" x2="491.38" y2="197.77" stroke="#000" stroke-width="0.5"/>
<rect x="487.22" y="205.23" width="5.20" height="48.07" fill="#000" stroke="#000" stroke-width="0.5"/>
<line x1="499.99" y1="227.18" x2="499.99" y2="225.75" stroke="#000" stroke-width="0.5"/>
<line x1="498.61" y1="225.75" x2="501.37" y2="225.75" stroke="#000" stroke-width="0.5"/>
<rect x="497.69" y="227.18" width="4.60" height="26.12" fill="#a4a4a4" stroke="#000" stroke-width="0.5"/>
<line x1="505.89" y1="194.75" x2="505.89" y2="184.42" stroke="#000" stroke-width="0.5"/>
<line x1="504.33" y1="184.42" x2="507.45" y2="184.42" stroke="#000" stroke-width="0.5"/>
<rect x="503.29" y="194.75" width="5.20" height="58.55" fill="#000" stroke="#000" stroke-width="0.5"/>
<line x1="383.10" y1="166.80" x2="383.10" y2="253.70" stroke="#000" stroke-width="1.1"/>
<line x1="380.90" y1="253.30" x2="383.10" y2="253.30" stroke="#000" stroke-width="1.1"/>
<text x="380.10" y="255.37" font-size="5.75" text-anchor="end" font-weight="bold">0</text>
<line x1="380.90" y1="224.60" x2="383.10" y2="224.60" stroke="#000" stroke-width="1.1"/>
<text x="380.10" y="226.67" font-size="5.75" text-anchor="end" font-weight="bold">20</text>
<line x1="380.90" y1="195.90" x2="383.10" y2="195.90" stroke="#000" stroke-width="1.1"/>
<text x="380.10" y="197.97" font-size="5.75" text-anchor="end" font-weight="bold">40</text>
<line x1="380.90" y1="167.20" x2="383.10" y2="167.20" stroke="#000" stroke-width="1.1"/>
<text x="380.10" y="169.27" font-size="5.75" text-anchor="end" font-weight="bold">60</text>
<line x1="382.55" y1="253.30" x2="511.80" y2="253.30" stroke="#000" stroke-width="1.1"/>
<line x1="390.30" y1="253.30" x2="390.30" y2="255.70" stroke="#000" stroke-width="1.1"/>
<text x="392.40" y="261.90" font-size="6.048" text-anchor="end" font-weight="bold" transform="rotate(-45 392.40000000000003 261.9)">0 h</text>
<line x1="406.37" y1="253.30" x2="406.37" y2="255.70" stroke="#000" stroke-width="1.1"/>
<text x="408.47" y="261.90" font-size="6.048" text-anchor="end" font-weight="bold" transform="rotate(-45 408.47 261.9)">2 h</text>
<line x1="422.44" y1="253.30" x2="422.44" y2="255.70" stroke="#000" stroke-width="1.1"/>
<text x="424.54" y="261.90" font-size="6.048" text-anchor="end" font-weight="bold" transform="rotate(-45 424.54 261.9)">4 h</text>
<line x1="438.51" y1="253.30" x2="438.51" y2="255.70" stroke="#000" stroke-width="1.1"/>
<text x="440.61" y="261.90" font-size="6.048" text-anchor="end" font-weight="bold" transform="rotate(-45 440.61 261.9)">8 h</text>
<line x1="454.58" y1="253.30" x2="454.58" y2="255.70" stroke="#000" stroke-width="1.1"/>
<text x="454.88" y="262.20" font-size="6.3" text-anchor="end" font-weight="bold" transform="rotate(-45 454.88000000000005 262.2)" word-spacing="1.5">12 h</text>
<line x1="470.65" y1="253.30" x2="470.65" y2="255.70" stroke="#000" stroke-width="1.1"/>
<text x="470.95" y="262.20" font-size="6.3" text-anchor="end" font-weight="bold" transform="rotate(-45 470.95 262.2)" word-spacing="1.5">24 h</text>
<line x1="486.72" y1="253.30" x2="486.72" y2="255.70" stroke="#000" stroke-width="1.1"/>
<text x="487.02" y="262.20" font-size="6.3" text-anchor="end" font-weight="bold" transform="rotate(-45 487.02000000000004 262.2)" word-spacing="1.5">48 h</text>
<line x1="502.79" y1="253.30" x2="502.79" y2="255.70" stroke="#000" stroke-width="1.1"/>
<text x="503.09" y="262.20" font-size="6.3" text-anchor="end" font-weight="bold" transform="rotate(-45 503.09000000000003 262.2)" word-spacing="1.5">72 h</text>
<text x="440.00" y="160.50" font-size="8.3" text-anchor="middle" text-decoration="underline">IL-2</text>
<text x="368.30" y="210.25" font-size="6.9" text-anchor="middle" transform="rotate(-90 368.3 210.25)">Protein levels (pg/ml)</text>
<text x="450.00" y="282.50" font-size="6.9" text-anchor="middle">Time (hours)</text>
<line x1="73.30" y1="352.37" x2="73.30" y2="349.91" stroke="#000" stroke-width="0.5"/>
<line x1="69.80" y1="349.91" x2="76.80" y2="349.91" stroke="#000" stroke-width="0.5"/>
<rect x="66.30" y="352.37" width="14.00" height="23.03" fill="#a4a4a4" stroke="#000" stroke-width="0.5"/>
<rect x="87.60" y="372.49" width="14.00" height="2.91" fill="#ececec" stroke="#000" stroke-width="0.5"/>
<line x1="115.20" y1="330.68" x2="115.20" y2="328.44" stroke="#000" stroke-width="0.5"/>
<line x1="111.70" y1="328.44" x2="118.70" y2="328.44" stroke="#000" stroke-width="0.5"/>
<rect x="108.20" y="330.68" width="14.00" height="44.72" fill="#000" stroke="#000" stroke-width="0.5"/>
<line x1="42.00" y1="319.10" x2="42.00" y2="375.80" stroke="#000" stroke-width="0.95"/>
<line x1="40.30" y1="375.40" x2="42.00" y2="375.40" stroke="#000" stroke-width="0.95"/>
<text x="39.70" y="376.98" font-size="4.4" text-anchor="end" font-weight="bold">0.0</text>
<line x1="40.30" y1="364.22" x2="42.00" y2="364.22" stroke="#000" stroke-width="0.95"/>
<text x="39.70" y="365.80" font-size="4.4" text-anchor="end" font-weight="bold">0.5</text>
<line x1="40.30" y1="353.04" x2="42.00" y2="353.04" stroke="#000" stroke-width="0.95"/>
<text x="39.70" y="354.62" font-size="4.4" text-anchor="end" font-weight="bold">1.0</text>
<line x1="40.30" y1="341.86" x2="42.00" y2="341.86" stroke="#000" stroke-width="0.95"/>
<text x="39.70" y="343.44" font-size="4.4" text-anchor="end" font-weight="bold">1.5</text>
<line x1="40.30" y1="330.68" x2="42.00" y2="330.68" stroke="#000" stroke-width="0.95"/>
<text x="39.70" y="332.26" font-size="4.4" text-anchor="end" font-weight="bold">2.0</text>
<line x1="40.30" y1="319.50" x2="42.00" y2="319.50" stroke="#000" stroke-width="0.95"/>
<text x="39.70" y="321.08" font-size="4.4" text-anchor="end" font-weight="bold">2.5</text>
<line x1="41.55" y1="375.40" x2="127.30" y2="375.40" stroke="#000" stroke-width="0.95"/>
<text x="30.80" y="344.70" font-size="6.75" text-anchor="middle" transform="rotate(-90 30.8 344.7)">Relative mRNA levels</text>
<text x="37.60" y="384.30" font-size="4.85" text-anchor="end">Anti-PD-L1</text>
<text x="39.50" y="392.40" font-size="5.5" text-anchor="end">HIV Gag pool</text>
<line x1="51.30" y1="375.40" x2="51.30" y2="377.30" stroke="#000" stroke-width="0.7"/>
<line x1="72.60" y1="375.40" x2="72.60" y2="377.30" stroke="#000" stroke-width="0.7"/>
<line x1="94.60" y1="375.40" x2="94.60" y2="377.30" stroke="#000" stroke-width="0.7"/>
<line x1="115.20" y1="375.40" x2="115.20" y2="377.30" stroke="#000" stroke-width="0.7"/>
<text x="51.30" y="384.10" font-size="5.0" text-anchor="middle" font-weight="bold">-</text>
<text x="51.30" y="392.20" font-size="5.0" text-anchor="middle" font-weight="bold">-</text>
<text x="72.60" y="384.10" font-size="5.0" text-anchor="middle" font-weight="bold">-</text>
<text x="72.60" y="392.20" font-size="5.0" text-anchor="middle" font-weight="bold">+</text>
<text x="94.60" y="384.10" font-size="5.0" text-anchor="middle" font-weight="bold">+</text>
<text x="94.60" y="392.20" font-size="5.0" text-anchor="middle" font-weight="bold">-</text>
<text x="115.20" y="384.10" font-size="5.0" text-anchor="middle" font-weight="bold">+</text>
<text x="115.20" y="392.20" font-size="5.0" text-anchor="middle" font-weight="bold">+</text>
<rect x="175.00" y="372.96" width="14.00" height="0.34" fill="#ececec" stroke="#000" stroke-width="0.5"/>
<line x1="203.30" y1="357.59" x2="203.30" y2="351.98" stroke="#000" stroke-width="0.5"/>
<line x1="199.80" y1="351.98" x2="206.80" y2="351.98" stroke="#000" stroke-width="0.5"/>
<rect x="196.30" y="357.59" width="14.00" height="15.71" fill="#a4a4a4" stroke="#000" stroke-width="0.5"/>
<rect x="217.50" y="372.96" width="14.00" height="0.34" fill="#ececec" stroke="#000" stroke-width="0.5"/>
<line x1="245.80" y1="328.98" x2="245.80" y2="322.95" stroke="#000" stroke-width="0.5"/>
<line x1="242.30" y1="322.95" x2="249.30" y2="322.95" stroke="#000" stroke-width="0.5"/>
<rect x="238.80" y="328.98" width="14.00" height="44.32" fill="#000" stroke="#000" stroke-width="0.5"/>
<line x1="171.80" y1="316.80" x2="171.80" y2="373.70" stroke="#000" stroke-width="0.95"/>
<line x1="170.10" y1="373.30" x2="171.80" y2="373.30" stroke="#000" stroke-width="0.95"/>
<text x="169.50" y="374.88" font-size="4.4" text-anchor="end" font-weight="bold">0</text>
<line x1="170.10" y1="359.27" x2="171.80" y2="359.27" stroke="#000" stroke-width="0.95"/>
<text x="169.50" y="360.86" font-size="4.4" text-anchor="end" font-weight="bold">500</text>
<line x1="170.10" y1="345.25" x2="171.80" y2="345.25" stroke="#000" stroke-width="0.95"/>
<text x="169.50" y="346.83" font-size="4.4" text-anchor="end" font-weight="bold">1000</text>
<line x1="170.10" y1="331.23" x2="171.80" y2="331.23" stroke="#000" stroke-width="0.95"/>
<text x="169.50" y="332.81" font-size="4.4" text-anchor="end" font-weight="bold">1500</text>
<line x1="170.10" y1="317.20" x2="171.80" y2="317.20" stroke="#000" stroke-width="0.95"/>
<text x="169.50" y="318.78" font-size="4.4" text-anchor="end" font-weight="bold">2000</text>
<line x1="171.35" y1="373.30" x2="259.40" y2="373.30" stroke="#000" stroke-width="0.95"/>
<text x="157.00" y="343.20" font-size="6.6" text-anchor="middle" transform="rotate(-90 157.0 343.2)">Protein levels (pg/ml)</text>
<text x="167.60" y="383.00" font-size="4.85" text-anchor="end">Anti-PD-L1</text>
<text x="169.50" y="391.20" font-size="5.5" text-anchor="end">HIV Gag pool</text>
<line x1="182.00" y1="373.30" x2="182.00" y2="375.20" stroke="#000" stroke-width="0.7"/>
<line x1="203.30" y1="373.30" x2="203.30" y2="375.20" stroke="#000" stroke-width="0.7"/>
<line x1="224.50" y1="373.30" x2="224.50" y2="375.20" stroke="#000" stroke-width="0.7"/>
<line x1="245.80" y1="373.30" x2="245.80" y2="375.20" stroke="#000" stroke-width="0.7"/>
<text x="182.00" y="382.80" font-size="5.0" text-anchor="middle" font-weight="bold">-</text>
<text x="182.00" y="391.00" font-size="5.0" text-anchor="middle" font-weight="bold">-</text>
<text x="203.30" y="382.80" font-size="5.0" text-anchor="middle" font-weight="bold">-</text>
<text x="203.30" y="391.00" font-size="5.0" text-anchor="middle" font-weight="bold">+</text>
<text x="224.50" y="382.80" font-size="5.0" text-anchor="middle" font-weight="bold">+</text>
<text x="224.50" y="391.00" font-size="5.0" text-anchor="middle" font-weight="bold">-</text>
<text x="245.80" y="382.80" font-size="5.0" text-anchor="middle" font-weight="bold">+</text>
<text x="245.80" y="391.00" font-size="5.0" text-anchor="middle" font-weight="bold">+</text>
<rect x="299.60" y="374.26" width="14.00" height="1.14" fill="#ececec" stroke="#000" stroke-width="0.5"/>
<line x1="327.70" y1="347.94" x2="327.70" y2="346.51" stroke="#000" stroke-width="0.5"/>
<line x1="324.20" y1="346.51" x2="331.20" y2="346.51" stroke="#000" stroke-width="0.5"/>
<rect x="320.70" y="347.94" width="14.00" height="27.46" fill="#a4a4a4" stroke="#000" stroke-width="0.5"/>
<line x1="370.20" y1="327.92" x2="370.20" y2="326.21" stroke="#000" stroke-width="0.5"/>
<line x1="366.70" y1="326.21" x2="373.70" y2="326.21" stroke="#000" stroke-width="0.5"/>
<rect x="363.20" y="327.92" width="14.00" height="47.48" fill="#000" stroke="#000" stroke-width="0.5"/>
<line x1="297.00" y1="317.80" x2="297.00" y2="375.80" stroke="#000" stroke-width="0.95"/>
<line x1="295.30" y1="375.40" x2="297.00" y2="375.40" stroke="#000" stroke-width="0.95"/>
<text x="294.70" y="376.98" font-size="4.4" text-anchor="end" font-weight="bold">0</text>
<line x1="295.30" y1="363.96" x2="297.00" y2="363.96" stroke="#000" stroke-width="0.95"/>
<text x="294.70" y="365.54" font-size="4.4" text-anchor="end" font-weight="bold">2</text>
<line x1="295.30" y1="352.52" x2="297.00" y2="352.52" stroke="#000" stroke-width="0.95"/>
<text x="294.70" y="354.10" font-size="4.4" text-anchor="end" font-weight="bold">4</text>
<line x1="295.30" y1="341.08" x2="297.00" y2="341.08" stroke="#000" stroke-width="0.95"/>
<text x="294.70" y="342.66" font-size="4.4" text-anchor="end" font-weight="bold">6</text>
<line x1="295.30" y1="329.64" x2="297.00" y2="329.64" stroke="#000" stroke-width="0.95"/>
<text x="294.70" y="331.22" font-size="4.4" text-anchor="end" font-weight="bold">8</text>
<line x1="295.30" y1="318.20" x2="297.00" y2="318.20" stroke="#000" stroke-width="0.95"/>
<text x="294.70" y="319.78" font-size="4.4" text-anchor="end" font-weight="bold">10</text>
<line x1="296.55" y1="375.40" x2="382.30" y2="375.40" stroke="#000" stroke-width="0.95"/>
<text x="287.70" y="343.50" font-size="6.87" text-anchor="middle" transform="rotate(-90 287.7 343.5)">Relative mRNA levels</text>
<text x="292.60" y="385.00" font-size="4.85" text-anchor="end">Anti-PD-L1</text>
<text x="295.00" y="392.60" font-size="5.5" text-anchor="end">HIV Gag pool</text>
<line x1="306.30" y1="375.40" x2="306.30" y2="377.30" stroke="#000" stroke-width="0.7"/>
<line x1="328.40" y1="375.40" x2="328.40" y2="377.30" stroke="#000" stroke-width="0.7"/>
<line x1="349.50" y1="375.40" x2="349.50" y2="377.30" stroke="#000" stroke-width="0.7"/>
<line x1="370.10" y1="375.40" x2="370.10" y2="377.30" stroke="#000" stroke-width="0.7"/>
<text x="306.30" y="384.80" font-size="5.0" text-anchor="middle" font-weight="bold">-</text>
<text x="306.30" y="392.40" font-size="5.0" text-anchor="middle" font-weight="bold">-</text>
<text x="328.40" y="384.80" font-size="5.0" text-anchor="middle" font-weight="bold">-</text>
<text x="328.40" y="392.40" font-size="5.0" text-anchor="middle" font-weight="bold">+</text>
<text x="349.50" y="384.80" font-size="5.0" text-anchor="middle" font-weight="bold">+</text>
<text x="349.50" y="392.40" font-size="5.0" text-anchor="middle" font-weight="bold">-</text>
<text x="370.10" y="384.80" font-size="5.0" text-anchor="middle" font-weight="bold">+</text>
<text x="370.10" y="392.40" font-size="5.0" text-anchor="middle" font-weight="bold">+</text>
<rect x="425.20" y="373.52" width="14.00" height="0.78" fill="#ececec" stroke="#000" stroke-width="0.5"/>
<line x1="454.20" y1="356.94" x2="454.20" y2="352.68" stroke="#000" stroke-width="0.5"/>
<line x1="450.70" y1="352.68" x2="457.70" y2="352.68" stroke="#000" stroke-width="0.5"/>
<rect x="447.20" y="356.94" width="14.00" height="17.36" fill="#a4a4a4" stroke="#000" stroke-width="0.5"/>
<rect x="468.20" y="373.52" width="14.00" height="0.78" fill="#ececec" stroke="#000" stroke-width="0.5"/>
<line x1="496.60" y1="336.78" x2="496.60" y2="330.62" stroke="#000" stroke-width="0.5"/>
<line x1="493.10" y1="330.62" x2="500.10" y2="330.62" stroke="#000" stroke-width="0.5"/>
<rect x="489.60" y="336.78" width="14.00" height="37.52" fill="#000" stroke="#000" stroke-width="0.5"/>
<line x1="423.00" y1="317.90" x2="423.00" y2="374.70" stroke="#000" stroke-width="0.95"/>
<line x1="421.30" y1="374.30" x2="423.00" y2="374.30" stroke="#000" stroke-width="0.95"/>
<text x="420.70" y="375.88" font-size="4.4" text-anchor="end" font-weight="bold">0</text>
<line x1="421.30" y1="363.10" x2="423.00" y2="363.10" stroke="#000" stroke-width="0.95"/>
<text x="420.70" y="364.68" font-size="4.4" text-anchor="end" font-weight="bold">10</text>
<line x1="421.30" y1="351.90" x2="423.00" y2="351.90" stroke="#000" stroke-width="0.95"/>
<text x="420.70" y="353.48" font-size="4.4" text-anchor="end" font-weight="bold">20</text>
<line x1="421.30" y1="340.70" x2="423.00" y2="340.70" stroke="#000" stroke-width="0.95"/>
<text x="420.70" y="342.28" font-size="4.4" text-anchor="end" font-weight="bold">30</text>
<line x1="421.30" y1="329.50" x2="423.00" y2="329.50" stroke="#000" stroke-width="0.95"/>
<text x="420.70" y="331.08" font-size="4.4" text-anchor="end" font-weight="bold">40</text>
<line x1="421.30" y1="318.30" x2="423.00" y2="318.30" stroke="#000" stroke-width="0.95"/>
<text x="420.70" y="319.88" font-size="4.4" text-anchor="end" font-weight="bold">50</text>
<line x1="422.55" y1="374.30" x2="510.20" y2="374.30" stroke="#000" stroke-width="0.95"/>
<text x="412.20" y="343.30" font-size="6.75" text-anchor="middle" transform="rotate(-90 412.2 343.3)">Protein levels (pg/ml)</text>
<text x="419.50" y="383.80" font-size="4.85" text-anchor="end">Anti-PD-L1</text>
<text x="421.30" y="391.90" font-size="5.5" text-anchor="end">HIV Gag pool</text>
<line x1="433.00" y1="374.30" x2="433.00" y2="376.20" stroke="#000" stroke-width="0.7"/>
<line x1="454.50" y1="374.30" x2="454.50" y2="376.20" stroke="#000" stroke-width="0.7"/>
<line x1="476.20" y1="374.30" x2="476.20" y2="376.20" stroke="#000" stroke-width="0.7"/>
<line x1="496.40" y1="374.30" x2="496.40" y2="376.20" stroke="#000" stroke-width="0.7"/>
<text x="433.00" y="383.60" font-size="5.0" text-anchor="middle" font-weight="bold">-</text>
<text x="433.00" y="391.70" font-size="5.0" text-anchor="middle" font-weight="bold">-</text>
<text x="454.50" y="383.60" font-size="5.0" text-anchor="middle" font-weight="bold">-</text>
<text x="454.50" y="391.70" font-size="5.0" text-anchor="middle" font-weight="bold">+</text>
<text x="476.20" y="383.60" font-size="5.0" text-anchor="middle" font-weight="bold">+</text>
<text x="476.20" y="391.70" font-size="5.0" text-anchor="middle" font-weight="bold">-</text>
<text x="496.40" y="383.60" font-size="5.0" text-anchor="middle" font-weight="bold">+</text>
<text x="496.40" y="391.70" font-size="5.0" text-anchor="middle" font-weight="bold">+</text>
<text x="17.40" y="308.00" font-size="9.3" text-anchor="start" font-weight="bold">i</text>
<text x="269.60" y="308.80" font-size="10.5" text-anchor="start" font-weight="bold">ii</text>
<text x="137.80" y="302.90" font-size="8.4" text-anchor="middle" font-weight="bold" text-decoration="underline">IFN-γ</text>
<text x="389.50" y="303.30" font-size="8.4" text-anchor="middle" font-weight="bold" text-decoration="underline">IL-2</text>
<line x1="56.60" y1="427.00" x2="56.60" y2="524.00" stroke="#000" stroke-width="1.1"/>
<line x1="53.90" y1="427.40" x2="56.60" y2="427.40" stroke="#000" stroke-width="1.1"/>
<text x="52.70" y="429.90" font-size="7.1" text-anchor="end">1000</text>
<line x1="53.90" y1="451.45" x2="56.60" y2="451.45" stroke="#000" stroke-width="1.1"/>
<text x="52.70" y="453.95" font-size="7.1" text-anchor="end">100</text>
<line x1="53.90" y1="475.50" x2="56.60" y2="475.50" stroke="#000" stroke-width="1.1"/>
<text x="52.70" y="478.00" font-size="7.1" text-anchor="end">10</text>
<line x1="53.90" y1="499.55" x2="56.60" y2="499.55" stroke="#000" stroke-width="1.1"/>
<text x="52.70" y="502.05" font-size="7.1" text-anchor="end">1</text>
<line x1="53.90" y1="523.60" x2="56.60" y2="523.60" stroke="#000" stroke-width="1.1"/>
<text x="52.70" y="526.10" font-size="7.1" text-anchor="end">0.1</text>
<line x1="56.20" y1="523.60" x2="170.50" y2="523.60" stroke="#000" stroke-width="1.1"/>
<line x1="84.80" y1="523.60" x2="84.80" y2="526.20" stroke="#000" stroke-width="1.1"/>
<line x1="141.00" y1="523.60" x2="141.00" y2="526.20" stroke="#000" stroke-width="1.1"/>
<text x="88.80" y="536.20" font-size="6.95" text-anchor="middle">Isotype Control</text>
<text x="137.90" y="536.20" font-size="6.9" text-anchor="middle">Anti-PD-L1</text>
<text x="35.40" y="476.00" font-size="7.7" text-anchor="middle" transform="rotate(-90 35.4 476.0)">Protein levels (pg/ml)</text>
<text x="116.80" y="416.00" font-size="8.4" text-anchor="middle" font-weight="bold" text-decoration="underline">IFN-γ</text>
<text x="117.20" y="429.50" font-size="7.8" text-anchor="middle">p=0.0005</text>
<line x1="84.80" y1="447.86" x2="141.00" y2="439.08" stroke="#000" stroke-width="1.05"/>
<circle cx="84.80" cy="447.86" r="1.85" fill="#000"/>
<circle cx="141.00" cy="439.08" r="1.85" fill="#000"/>
<line x1="84.80" y1="457.56" x2="141.00" y2="444.75" stroke="#000" stroke-width="1.05"/>
<circle cx="84.80" cy="457.56" r="1.85" fill="#000"/>
<circle cx="141.00" cy="444.75" r="1.85" fill="#000"/>
<line x1="84.80" y1="459.39" x2="141.00" y2="446.95" stroke="#000" stroke-width="1.05"/>
<circle cx="84.80" cy="459.39" r="1.85" fill="#000"/>
<circle cx="141.00" cy="446.95" r="1.85" fill="#000"/>
<line x1="84.80" y1="461.22" x2="141.00" y2="452.80" stroke="#000" stroke-width="1.05"/>
<circle cx="84.80" cy="461.22" r="1.85" fill="#000"/>
<circle cx="141.00" cy="452.80" r="1.85" fill="#000"/>
<line x1="84.80" y1="462.50" x2="141.00" y2="454.27" stroke="#000" stroke-width="1.05"/>
<circle cx="84.80" cy="462.50" r="1.85" fill="#000"/>
<circle cx="141.00" cy="454.27" r="1.85" fill="#000"/>
<line x1="84.80" y1="463.41" x2="141.00" y2="456.10" stroke="#000" stroke-width="1.05"/>
<circle cx="84.80" cy="463.41" r="1.85" fill="#000"/>
<circle cx="141.00" cy="456.10" r="1.85" fill="#000"/>
<line x1="84.80" y1="474.02" x2="141.00" y2="466.70" stroke="#000" stroke-width="1.05"/>
<circle cx="84.80" cy="474.02" r="1.85" fill="#000"/>
<circle cx="141.00" cy="466.70" r="1.85" fill="#000"/>
<line x1="84.80" y1="474.39" x2="141.00" y2="468.90" stroke="#000" stroke-width="1.05"/>
<circle cx="84.80" cy="474.39" r="1.85" fill="#000"/>
<circle cx="141.00" cy="468.90" r="1.85" fill="#000"/>
<line x1="84.80" y1="476.22" x2="141.00" y2="470.73" stroke="#000" stroke-width="1.05"/>
<circle cx="84.80" cy="476.22" r="1.85" fill="#000"/>
<circle cx="141.00" cy="470.73" r="1.85" fill="#000"/>
<line x1="84.80" y1="478.41" x2="141.00" y2="467.44" stroke="#000" stroke-width="1.05"/>
<circle cx="84.80" cy="478.41" r="1.85" fill="#000"/>
<circle cx="141.00" cy="467.44" r="1.85" fill="#000"/>
<line x1="84.80" y1="486.28" x2="141.00" y2="468.90" stroke="#000" stroke-width="1.05"/>
<circle cx="84.80" cy="486.28" r="1.85" fill="#000"/>
<circle cx="141.00" cy="468.90" r="1.85" fill="#000"/>
<line x1="84.80" y1="488.11" x2="141.00" y2="473.47" stroke="#000" stroke-width="1.05"/>
<circle cx="84.80" cy="488.11" r="1.85" fill="#000"/>
<circle cx="141.00" cy="473.47" r="1.85" fill="#000"/>
<line x1="84.80" y1="489.39" x2="141.00" y2="483.53" stroke="#000" stroke-width="1.05"/>
<circle cx="84.80" cy="489.39" r="1.85" fill="#000"/>
<circle cx="141.00" cy="483.53" r="1.85" fill="#000"/>
<line x1="84.80" y1="504.02" x2="141.00" y2="488.11" stroke="#000" stroke-width="1.05"/>
<circle cx="84.80" cy="504.02" r="1.85" fill="#000"/>
<circle cx="141.00" cy="488.11" r="1.85" fill="#000"/>
<line x1="84.80" y1="509.14" x2="141.00" y2="493.96" stroke="#000" stroke-width="1.05"/>
<circle cx="84.80" cy="509.14" r="1.85" fill="#000"/>
<circle cx="141.00" cy="493.96" r="1.85" fill="#000"/>
<line x1="84.80" y1="509.51" x2="141.00" y2="503.29" stroke="#000" stroke-width="1.05"/>
<circle cx="84.80" cy="509.51" r="1.85" fill="#000"/>
<circle cx="141.00" cy="503.29" r="1.85" fill="#000"/>
<line x1="219.30" y1="429.10" x2="219.30" y2="525.70" stroke="#000" stroke-width="1.1"/>
<line x1="216.60" y1="429.50" x2="219.30" y2="429.50" stroke="#000" stroke-width="1.1"/>
<text x="215.40" y="432.00" font-size="7.1" text-anchor="end">1000</text>
<line x1="216.60" y1="453.45" x2="219.30" y2="453.45" stroke="#000" stroke-width="1.1"/>
<text x="215.40" y="455.95" font-size="7.1" text-anchor="end">100</text>
<line x1="216.60" y1="477.40" x2="219.30" y2="477.40" stroke="#000" stroke-width="1.1"/>
<text x="215.40" y="479.90" font-size="7.1" text-anchor="end">10</text>
<line x1="216.60" y1="501.35" x2="219.30" y2="501.35" stroke="#000" stroke-width="1.1"/>
<text x="215.40" y="503.85" font-size="7.1" text-anchor="end">1</text>
<line x1="216.60" y1="525.30" x2="219.30" y2="525.30" stroke="#000" stroke-width="1.1"/>
<text x="215.40" y="527.80" font-size="7.1" text-anchor="end">0.1</text>
<line x1="218.90" y1="525.30" x2="333.60" y2="525.30" stroke="#000" stroke-width="1.1"/>
<line x1="248.10" y1="525.30" x2="248.10" y2="527.90" stroke="#000" stroke-width="1.1"/>
<line x1="304.40" y1="525.30" x2="304.40" y2="527.90" stroke="#000" stroke-width="1.1"/>
<text x="256.20" y="539.20" font-size="6.95" text-anchor="middle">Isotype Control</text>
<text x="306.70" y="539.20" font-size="6.9" text-anchor="middle">Anti-PD-L1</text>
<text x="198.90" y="477.90" font-size="7.7" text-anchor="middle" transform="rotate(-90 198.9 477.9)">Protein levels (pg/ml)</text>
<text x="274.60" y="416.00" font-size="8.4" text-anchor="middle" font-weight="bold" text-decoration="underline">IL-2</text>
<text x="275.30" y="429.50" font-size="7.8" text-anchor="middle">p=0.0006</text>
<line x1="248.10" y1="450.24" x2="304.40" y2="439.63" stroke="#000" stroke-width="1.05"/>
<circle cx="248.10" cy="450.24" r="1.85" fill="#000"/>
<circle cx="304.40" cy="439.63" r="1.85" fill="#000"/>
<line x1="248.10" y1="462.50" x2="304.40" y2="446.58" stroke="#000" stroke-width="1.05"/>
<circle cx="248.10" cy="462.50" r="1.85" fill="#000"/>
<circle cx="304.40" cy="446.58" r="1.85" fill="#000"/>
<line x1="248.10" y1="463.41" x2="304.40" y2="452.07" stroke="#000" stroke-width="1.05"/>
<circle cx="248.10" cy="463.41" r="1.85" fill="#000"/>
<circle cx="304.40" cy="452.07" r="1.85" fill="#000"/>
<line x1="248.10" y1="464.33" x2="304.40" y2="453.90" stroke="#000" stroke-width="1.05"/>
<circle cx="248.10" cy="464.33" r="1.85" fill="#000"/>
<circle cx="304.40" cy="453.90" r="1.85" fill="#000"/>
<line x1="248.10" y1="465.61" x2="304.40" y2="455.73" stroke="#000" stroke-width="1.05"/>
<circle cx="248.10" cy="465.61" r="1.85" fill="#000"/>
<circle cx="304.40" cy="455.73" r="1.85" fill="#000"/>
<line x1="248.10" y1="466.70" x2="304.40" y2="457.56" stroke="#000" stroke-width="1.05"/>
<circle cx="248.10" cy="466.70" r="1.85" fill="#000"/>
<circle cx="304.40" cy="457.56" r="1.85" fill="#000"/>
<line x1="248.10" y1="467.99" x2="304.40" y2="463.41" stroke="#000" stroke-width="1.05"/>
<circle cx="248.10" cy="467.99" r="1.85" fill="#000"/>
<circle cx="304.40" cy="463.41" r="1.85" fill="#000"/>
<line x1="248.10" y1="471.64" x2="304.40" y2="470.73" stroke="#000" stroke-width="1.05"/>
<circle cx="248.10" cy="471.64" r="1.85" fill="#000"/>
<circle cx="304.40" cy="470.73" r="1.85" fill="#000"/>
<line x1="248.10" y1="473.47" x2="304.40" y2="472.92" stroke="#000" stroke-width="1.05"/>
<circle cx="248.10" cy="473.47" r="1.85" fill="#000"/>
<circle cx="304.40" cy="472.92" r="1.85" fill="#000"/>
<line x1="248.10" y1="478.41" x2="304.40" y2="474.75" stroke="#000" stroke-width="1.05"/>
<circle cx="248.10" cy="478.41" r="1.85" fill="#000"/>
<circle cx="304.40" cy="474.75" r="1.85" fill="#000"/>
<line x1="248.10" y1="479.51" x2="304.40" y2="477.13" stroke="#000" stroke-width="1.05"/>
<circle cx="248.10" cy="479.51" r="1.85" fill="#000"/>
<circle cx="304.40" cy="477.13" r="1.85" fill="#000"/>
<line x1="248.10" y1="480.42" x2="304.40" y2="479.87" stroke="#000" stroke-width="1.05"/>
<circle cx="248.10" cy="480.42" r="1.85" fill="#000"/>
<circle cx="304.40" cy="479.87" r="1.85" fill="#000"/>
<line x1="248.10" y1="481.34" x2="304.40" y2="483.53" stroke="#000" stroke-width="1.05"/>
<circle cx="248.10" cy="481.34" r="1.85" fill="#000"/>
<circle cx="304.40" cy="483.53" r="1.85" fill="#000"/>
<line x1="248.10" y1="482.07" x2="304.40" y2="493.59" stroke="#000" stroke-width="1.05"/>
<circle cx="248.10" cy="482.07" r="1.85" fill="#000"/>
<circle cx="304.40" cy="493.59" r="1.85" fill="#000"/>
<line x1="248.10" y1="488.11" x2="304.40" y2="483.90" stroke="#000" stroke-width="1.05"/>
<circle cx="248.10" cy="488.11" r="1.85" fill="#000"/>
<circle cx="304.40" cy="483.90" r="1.85" fill="#000"/>
<line x1="248.10" y1="489.02" x2="304.40" y2="479.87" stroke="#000" stroke-width="1.05"/>
<circle cx="248.10" cy="489.02" r="1.85" fill="#000"/>
<circle cx="304.40" cy="479.87" r="1.85" fill="#000"/>
<line x1="248.10" y1="495.42" x2="304.40" y2="494.87" stroke="#000" stroke-width="1.05"/>
<circle cx="248.10" cy="495.42" r="1.85" fill="#000"/>
<circle cx="304.40" cy="494.87" r="1.85" fill="#000"/>
<line x1="248.10" y1="503.65" x2="304.40" y2="491.76" stroke="#000" stroke-width="1.05"/>
<circle cx="248.10" cy="503.65" r="1.85" fill="#000"/>
<circle cx="304.40" cy="491.76" r="1.85" fill="#000"/>
<line x1="248.10" y1="515.54" x2="304.40" y2="489.94" stroke="#000" stroke-width="1.05"/>
<circle cx="248.10" cy="515.54" r="1.85" fill="#000"/>
<circle cx="304.40" cy="489.94" r="1.85" fill="#000"/>
<line x1="379.80" y1="429.80" x2="379.80" y2="527.20" stroke="#000" stroke-width="1.1"/>
<line x1="377.10" y1="430.20" x2="379.80" y2="430.20" stroke="#000" stroke-width="1.1"/>
<text x="375.90" y="432.70" font-size="7.1" text-anchor="end">1000</text>
<line x1="377.10" y1="454.35" x2="379.80" y2="454.35" stroke="#000" stroke-width="1.1"/>
<text x="375.90" y="456.85" font-size="7.1" text-anchor="end">100</text>
<line x1="377.10" y1="478.50" x2="379.80" y2="478.50" stroke="#000" stroke-width="1.1"/>
<text x="375.90" y="481.00" font-size="7.1" text-anchor="end">10</text>
<line x1="377.10" y1="502.65" x2="379.80" y2="502.65" stroke="#000" stroke-width="1.1"/>
<text x="375.90" y="505.15" font-size="7.1" text-anchor="end">1</text>
<line x1="377.10" y1="526.80" x2="379.80" y2="526.80" stroke="#000" stroke-width="1.1"/>
<text x="375.90" y="529.30" font-size="7.1" text-anchor="end">0.1</text>
<line x1="379.40" y1="526.80" x2="490.60" y2="526.80" stroke="#000" stroke-width="1.1"/>
<line x1="405.90" y1="526.80" x2="405.90" y2="529.40" stroke="#000" stroke-width="1.1"/>
<line x1="459.50" y1="526.80" x2="459.50" y2="529.40" stroke="#000" stroke-width="1.1"/>
<text x="414.10" y="540.90" font-size="6.95" text-anchor="middle">Isotype Control</text>
<text x="463.60" y="540.90" font-size="6.9" text-anchor="middle">Anti-PD-L1</text>
<text x="359.80" y="479.00" font-size="7.7" text-anchor="middle" transform="rotate(-90 359.8 479.0)">Protein levels (pg/ml)</text>
<text x="426.80" y="416.00" font-size="8.4" text-anchor="middle" font-weight="bold" text-decoration="underline">IL-13</text>
<text x="429.90" y="429.50" font-size="7.8" text-anchor="middle">p=0.021</text>
<line x1="405.90" y1="450.61" x2="459.50" y2="446.95" stroke="#000" stroke-width="1.05"/>
<circle cx="405.90" cy="450.61" r="1.85" fill="#000"/>
<circle cx="459.50" cy="446.95" r="1.85" fill="#000"/>
<line x1="405.90" y1="458.84" x2="459.50" y2="453.35" stroke="#000" stroke-width="1.05"/>
<circle cx="405.90" cy="458.84" r="1.85" fill="#000"/>
<circle cx="459.50" cy="453.35" r="1.85" fill="#000"/>
<line x1="405.90" y1="469.45" x2="459.50" y2="463.78" stroke="#000" stroke-width="1.05"/>
<circle cx="405.90" cy="469.45" r="1.85" fill="#000"/>
<circle cx="459.50" cy="463.78" r="1.85" fill="#000"/>
<line x1="405.90" y1="470.36" x2="459.50" y2="470.73" stroke="#000" stroke-width="1.05"/>
<circle cx="405.90" cy="470.36" r="1.85" fill="#000"/>
<circle cx="459.50" cy="470.73" r="1.85" fill="#000"/>
<line x1="405.90" y1="477.13" x2="459.50" y2="467.07" stroke="#000" stroke-width="1.05"/>
<circle cx="405.90" cy="477.13" r="1.85" fill="#000"/>
<circle cx="459.50" cy="467.07" r="1.85" fill="#000"/>
<line x1="405.90" y1="482.98" x2="459.50" y2="489.94" stroke="#000" stroke-width="1.05"/>
<circle cx="405.90" cy="482.98" r="1.85" fill="#000"/>
<circle cx="459.50" cy="489.94" r="1.85" fill="#000"/>
<line x1="405.90" y1="494.51" x2="459.50" y2="488.47" stroke="#000" stroke-width="1.05"/>
<circle cx="405.90" cy="494.51" r="1.85" fill="#000"/>
<circle cx="459.50" cy="488.47" r="1.85" fill="#000"/>
<line x1="405.90" y1="495.42" x2="459.50" y2="491.22" stroke="#000" stroke-width="1.05"/>
<circle cx="405.90" cy="495.42" r="1.85" fill="#000"/>
<circle cx="459.50" cy="491.22" r="1.85" fill="#000"/>
<line x1="405.90" y1="504.57" x2="459.50" y2="481.70" stroke="#000" stroke-width="1.05"/>
<circle cx="405.90" cy="504.57" r="1.85" fill="#000"/>
<circle cx="459.50" cy="481.70" r="1.85" fill="#000"/>
<line x1="405.90" y1="506.76" x2="459.50" y2="483.53" stroke="#000" stroke-width="1.05"/>
<circle cx="405.90" cy="506.76" r="1.85" fill="#000"/>
<circle cx="459.50" cy="483.53" r="1.85" fill="#000"/>
<line x1="405.90" y1="507.68" x2="459.50" y2="505.48" stroke="#000" stroke-width="1.05"/>
<circle cx="405.90" cy="507.68" r="1.85" fill="#000"/>
<circle cx="459.50" cy="505.48" r="1.85" fill="#000"/>
<line x1="405.90" y1="508.23" x2="459.50" y2="505.85" stroke="#000" stroke-width="1.05"/>
<circle cx="405.90" cy="508.23" r="1.85" fill="#000"/>
<circle cx="459.50" cy="505.85" r="1.85" fill="#000"/>
<line x1="405.90" y1="519.57" x2="459.50" y2="508.23" stroke="#000" stroke-width="1.05"/>
<circle cx="405.90" cy="519.57" r="1.85" fill="#000"/>
<circle cx="459.50" cy="508.23" r="1.85" fill="#000"/>
</svg></body></html>
